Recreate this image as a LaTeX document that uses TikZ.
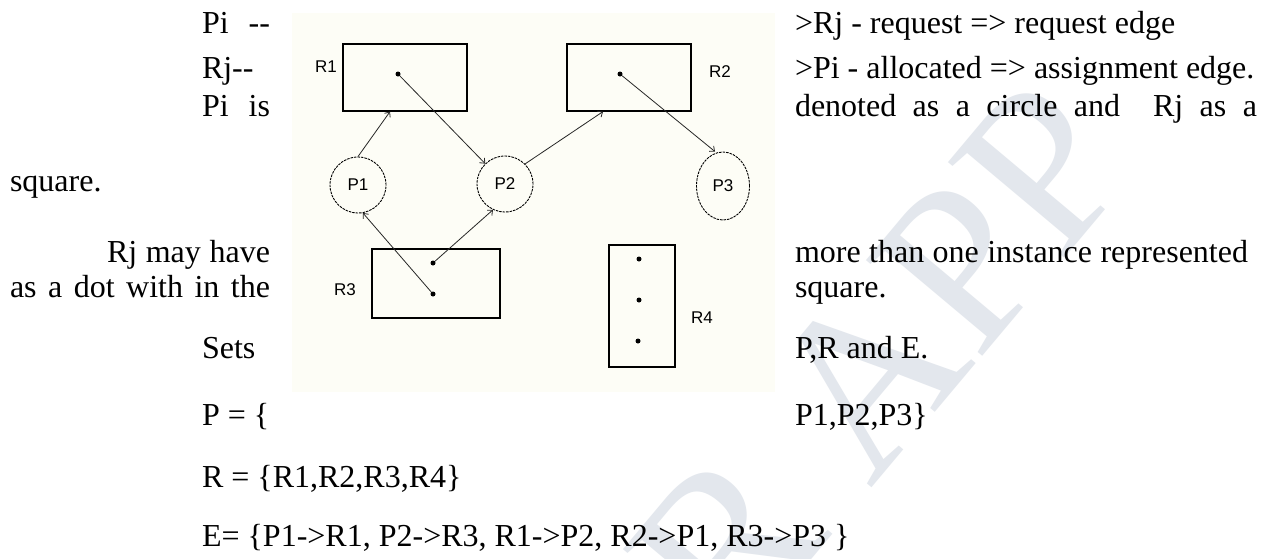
\documentclass[tikz,border=0pt]{standalone}
\usepackage{fontspec}
\setmainfont{Liberation Serif}
\newfontfamily\figfont{Liberation Sans}
\usetikzlibrary{arrows.meta,shapes.geometric}
\definecolor{cream}{HTML}{FDFDF6}
\definecolor{wmark}{HTML}{E3E7ED}
\begin{document}
\begin{tikzpicture}[x=1pt,y=-1pt,
  body/.style={anchor=base west, inner sep=0pt, outer sep=0pt, font=\fontsize{32}{38}\selectfont},
  res/.style={draw, line width=1.2pt, rectangle, inner sep=0pt},
  proc/.style={draw, dash pattern=on 2.5pt off 1pt, line width=0.9pt, inner sep=0pt, font=\figfont\fontsize{17}{17}\selectfont},
  inst/.style={circle, fill, inner sep=0pt, minimum size=5pt},
  lbl/.style={font=\figfont\fontsize{17}{17}\selectfont, inner sep=0pt},
  link/.style={line width=0.8pt, draw=black!85, -{Straight Barb[length=4pt,width=7pt]}},
]
\useasboundingbox (0,0) rectangle (1263,558);
\fill[white] (0,0) rectangle (1263,558);

% watermark
\begin{scope}
  \clip (0,0) rectangle (1263,558);
  \node[rotate=50, text=wmark, inner sep=0pt, font=\fontsize{230}{230}\selectfont] (wm) at (880,360) {R APP};
\end{scope}

% figure background
\fill[cream] (292,13) rectangle (775,392);

% resources
\node[res, minimum width=124pt, minimum height=67pt] (r1) at (405,77.5) {};
\node[res, minimum width=124pt, minimum height=67pt] (r2) at (629,77.5) {};
\node[res, minimum width=128pt, minimum height=69pt] (r3) at (436,283.5) {};
\node[res, minimum width=66pt, minimum height=122pt] (r4) at (642,306) {};

\node[lbl] (r1l) at (326,67) {R1};
\node[lbl] (r2l) at (720,72) {R2};
\node[lbl] (r3l) at (345,290) {R3};
\node[lbl] (r4l) at (702,318) {R4};

% instances
\node[inst] (r1d) at (398,74) {};
\node[inst] (r2d) at (620,74) {};
\node[inst] (r3a) at (433,263) {};
\node[inst] (r3b) at (433,294) {};
\node[inst] (r4a) at (639,259) {};
\node[inst] (r4b) at (639,300) {};
\node[inst] (r4c) at (638,341) {};

% processes
\node[proc, circle, minimum size=56pt] (p1) at (358,185) {P1};
\node[proc, circle, minimum size=56pt] (p2) at (505,184) {P2};
\node[proc, ellipse, minimum width=53pt, minimum height=68pt] (p3) at (723,186) {P3};

% edges
\draw[link] (p1.north) -- ([xshift=-15pt]r1.south);
\draw[link] (r1d) -- (p2);
\draw[link] (p2.45) -- ([xshift=-26pt]r2.south);
\draw[link] (r2d) -- ([xshift=-8pt]p3.north);
\draw[link] (r3b) -- (p1.-80);
\draw[link] (r3a) -- (p2.-115);

% text, left column
\node[body] (t1) at (202,33) {\makebox[68pt][s]{Pi {-}{-}}};
\node[body] (t2) at (202,78) {Rj{-}{-}};
\node[body] (t3) at (202,116) {\makebox[68pt][s]{Pi is}};
\node[body] (t4) at (10,191) {square.};
\node[body] (t5) at (107,262) {\makebox[163pt][s]{Rj may have}};
\node[body] (t6) at (10,297) {\makebox[260pt][s]{as a dot with in the}};
\node[body] (t7) at (202,358) {Sets};
\node[body] (t8) at (202,425) {P = \{};
\node[body] (t9) at (202,487) {R = \{R1,R2,R3,R4\}};
\node[body] (t10) at (202,546) {E= \{P1->R1, P2->R3, R1->P2, R2->P1, R3->P3 \}};

% text, right column
\node[body] (u1) at (795,33) {>Rj - request => request edge};
\node[body] (u2) at (795,78) {>Pi - allocated => assignment edge.};
\node[body] (u3) at (795,116) {\makebox[462pt][s]{denoted as a circle and \ Rj as a}};
\node[body] (u5) at (795,262) {\makebox[453pt][s]{more than one instance represented}};
\node[body] (u6) at (795,297) {square.};
\node[body] (u7) at (795,358) {P,R and E.};
\node[body] (u8) at (795,425) {P1,P2,P3\}};
\end{tikzpicture}
\end{document}
